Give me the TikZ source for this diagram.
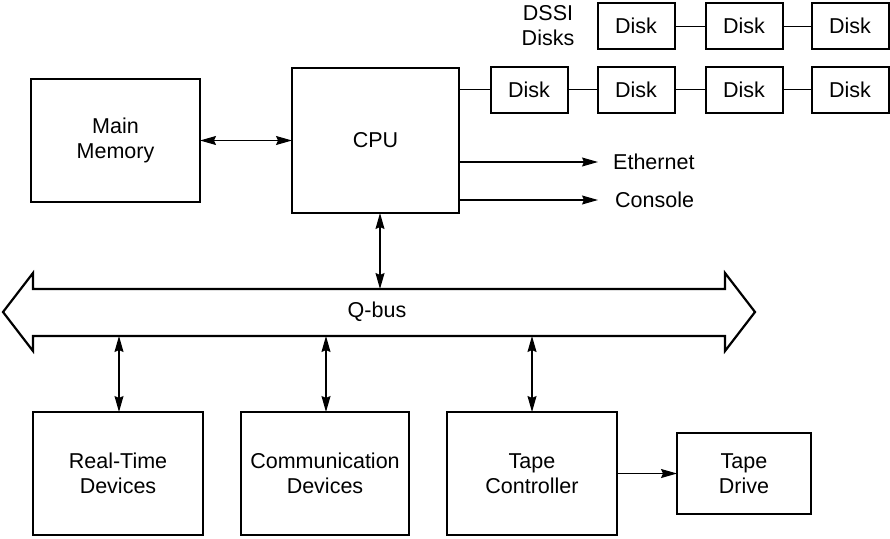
\documentclass[tikz,border=0pt]{standalone}
\usepackage{fontspec}
\setmainfont{Liberation Sans}
\usetikzlibrary{arrows.meta}
\begin{document}
\begin{tikzpicture}[x=1pt,y=-1pt,
  every node/.style={font=\fontsize{21.5}{25}\selectfont},
  blk/.style={draw=black, line width=2.2pt, fill=white, align=center, inner sep=0pt, outer sep=0pt},
  disk/.style={blk, line width=2pt, minimum width=77pt, minimum height=46pt},
  lbl/.style={inner sep=0pt, align=center},
  link/.style={line width=1pt},
  conn/.style={line width=1.2pt, -{Stealth[length=16pt,width=9pt,inset=2pt]}},
  bconn/.style={line width=1.2pt, {Stealth[length=16pt,width=9pt,inset=2pt]}-{Stealth[length=16pt,width=9pt,inset=2pt]}}]
\useasboundingbox (0,0) rectangle (890,538);

% main blocks
\node[blk, minimum width=169pt, minimum height=123pt] (mm) at (115.5,140.5) {Main\\Memory};
\node[blk, minimum width=167pt, minimum height=145pt] (cpu) at (375.5,140.5) {CPU};

% DSSI disks
\node[lbl] (dssi) at (548,26) {DSSI\\Disks};
\node[disk] (t1) at (636,26) {Disk};
\node[disk] (t2) at (744,26) {Disk};
\node[disk] (t3) at (850,26) {Disk};
\node[disk] (b1) at (529,89.5) {Disk};
\node[disk] (b2) at (636,89.5) {Disk};
\node[disk] (b3) at (744,89.5) {Disk};
\node[disk] (b4) at (850,89.5) {Disk};
\coordinate (tend) at (890,26);
\coordinate (bend) at (890,89.5);
\draw[link] (t1) -- (t2);
\draw[link] (t2) -- (t3);
\draw[link] (t3.east) -- (tend);
\draw[link] (cpu.east |- b1.west) -- (b1.west);
\draw[link] (b1) -- (b2);
\draw[link] (b2) -- (b3);
\draw[link] (b3) -- (b4);
\draw[link] (b4.east) -- (bend);

% Ethernet / Console
\node[lbl, anchor=west] (eth) at (613,162) {Ethernet};
\node[lbl, anchor=west] (con) at (615,200) {Console};
\draw[conn] (cpu.east |- eth.west) -- ([xshift=-15pt]eth.west);
\draw[conn] (cpu.east |- con.west) -- ([xshift=-17pt]con.west);

% memory - cpu
\draw[bconn] (mm.east) -- (cpu.west);

% Q-bus
\draw[line width=2.2pt, line join=miter, fill=white]
  (3,312) -- (33,273) -- (33,289) -- (725,289) -- (725,273) -- (755,312)
  -- (725,351) -- (725,336) -- (33,336) -- (33,351) -- cycle;
\node[lbl] (qbus) at (377,312) {Q-bus};
\coordinate (qcpu) at (380,289);
\coordinate (qrt) at (119,336);
\coordinate (qcom) at (326,336);
\coordinate (qtape) at (532,336);

% bottom blocks
\node[blk, minimum width=170pt, minimum height=123pt] (rt) at (118,473.5) {Real-Time\\Devices};
\node[blk, minimum width=168pt, minimum height=123pt] (com) at (325,473.5) {Communication\\Devices};
\node[blk, minimum width=170pt, minimum height=123pt] (tc) at (532,473.5) {Tape\\Controller};
\node[blk, minimum width=134pt, minimum height=81pt] (td) at (744,473.5) {Tape\\Drive};

% bus connections
\draw[bconn] (cpu.south -| qcpu) -- (qcpu);
\draw[bconn] (qrt) -- (rt.north -| qrt);
\draw[bconn] (qcom) -- (com.north -| qcom);
\draw[bconn] (qtape) -- (tc.north -| qtape);
\draw[conn] (tc.east) -- (td.west);
\end{tikzpicture}
\end{document}
